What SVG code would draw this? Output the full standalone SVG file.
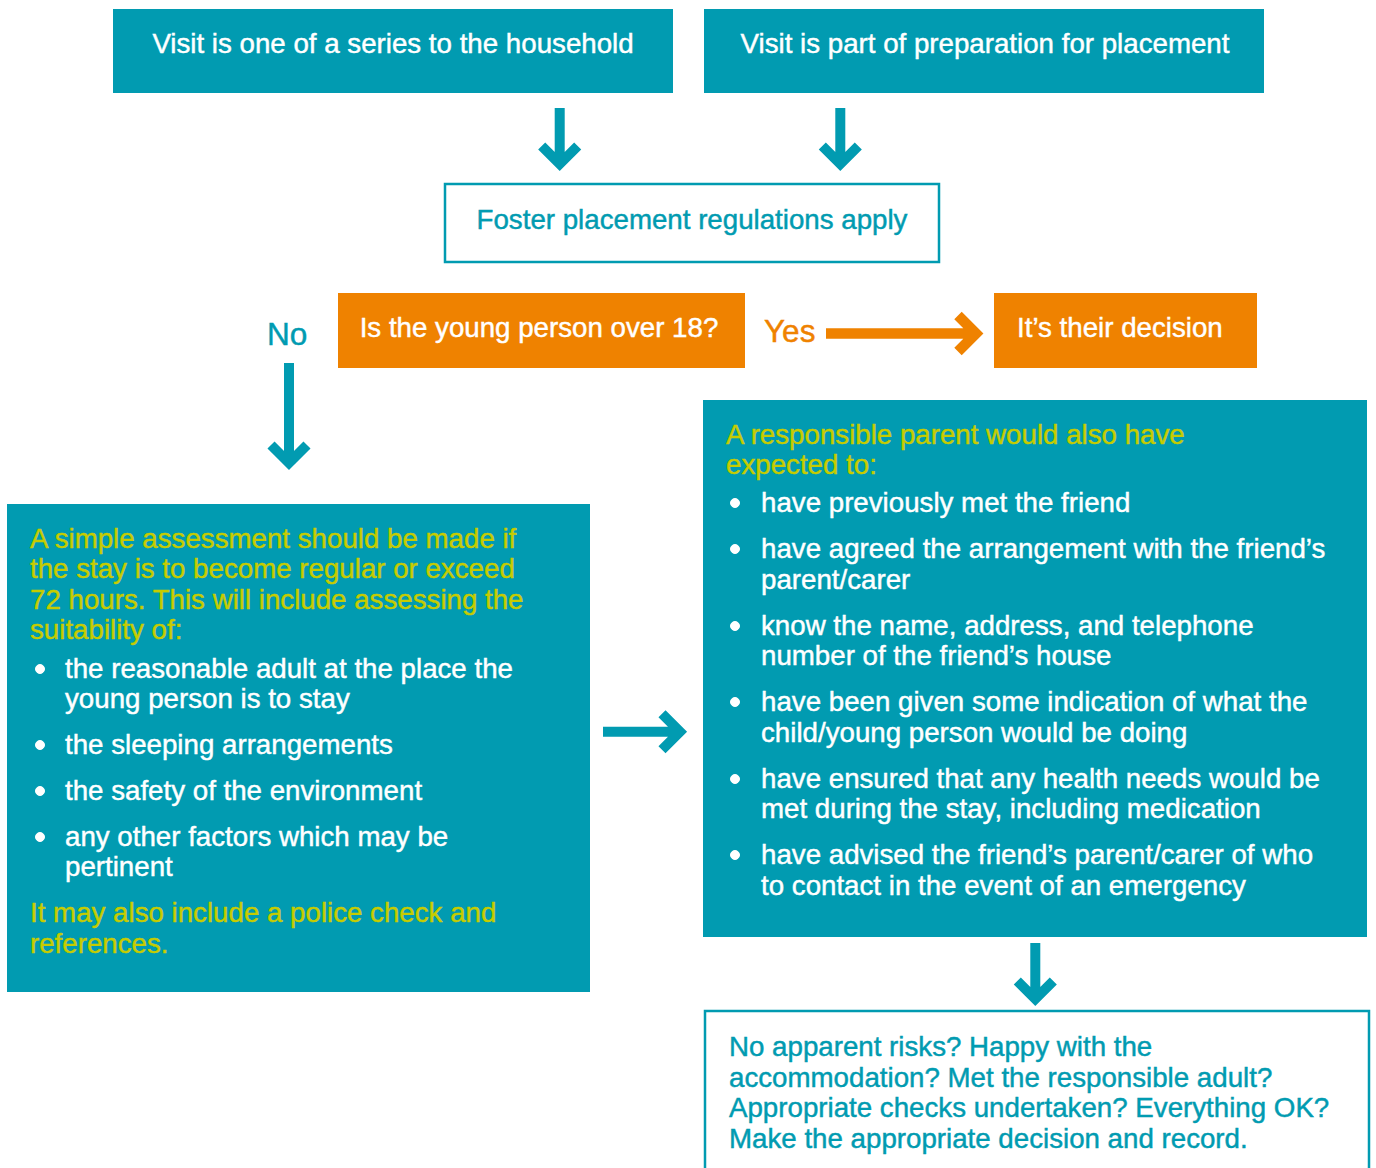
<svg xmlns="http://www.w3.org/2000/svg" width="1376" height="1168" viewBox="0 0 1376 1168">
  <style>
    text { font-family: "Liberation Sans", Arial, sans-serif; font-size: 27.7px; stroke-width: 0.45px; }
    .fill-teal { fill: #019bb1; }
    .fill-orange { fill: #ef8200; }
    .outline { fill: #ffffff; stroke: #019bb1; stroke-width: 2.5; }
    .white { fill: #ffffff; stroke: #ffffff; }
    .lime { fill: #c6cc00; stroke: #c6cc00; }
    .teal { fill: #019bb1; stroke: #019bb1; }
    .orange { fill: #ef8200; stroke: #ef8200; }
    .label { font-size: 31.5px; }
    .arrow { fill: none; stroke: #019bb1; stroke-width: 10; stroke-linejoin: miter; stroke-linecap: butt; }
    .arrow-o { fill: none; stroke: #ef8200; stroke-width: 10.5; stroke-linejoin: miter; stroke-linecap: butt; }
  </style>

  <!-- connectors: straight shaft plus a mitred chevron head -->
  <g id="connectors">
    <path class="arrow" d="M559.7,108 V160 M541.7,146 L559.7,164 L577.7,146"/>
    <path class="arrow" d="M840.3,108 V160 M822.3,146 L840.3,164 L858.3,146"/>
    <path class="arrow" d="M289,363 V459 M271,445 L289,463 L307,445"/>
    <path class="arrow-o" d="M826,333.5 H972 M958,315.5 L976,333.5 L958,351.5"/>
    <path class="arrow" d="M603,731.7 H676 M662,713.7 L680,731.7 L662,749.7"/>
    <path class="arrow" d="M1035.3,943 V995 M1017.3,981 L1035.3,999 L1053.3,981"/>
    <text class="teal label" x="267" y="345">No</text>
    <text class="orange label" x="764" y="342">Yes</text>
  </g>

  <g id="visit-series">
    <rect class="fill-teal" x="113" y="9" width="560" height="84"/>
    <text class="white" x="393" y="53" text-anchor="middle">Visit is one of a series to the household</text>
  </g>

  <g id="visit-preparation">
    <rect class="fill-teal" x="704" y="9" width="560" height="84"/>
    <text class="white" x="985" y="53" text-anchor="middle">Visit is part of preparation for placement</text>
  </g>

  <g id="foster-regulations">
    <rect class="outline" x="445" y="184" width="494" height="78"/>
    <text class="teal" x="692" y="229" text-anchor="middle">Foster placement regulations apply</text>
  </g>

  <g id="over-18">
    <rect class="fill-orange" x="338" y="293" width="407" height="75"/>
    <text class="white" x="539" y="337" text-anchor="middle">Is the young person over 18?</text>
  </g>

  <g id="their-decision">
    <rect class="fill-orange" x="994" y="293" width="263" height="75"/>
    <text class="white" x="1017" y="337">It’s their decision</text>
  </g>

  <g id="simple-assessment">
    <rect class="fill-teal" x="7" y="504" width="583" height="488"/>
    <text class="lime" x="30" y="548">A simple assessment should be made if</text>
    <text class="lime" x="30" y="578">the stay is to become regular or exceed</text>
    <text class="lime" x="30" y="609">72 hours. This will include assessing the</text>
    <text class="lime" x="30" y="639">suitability of:</text>
    <g class="white">
      <circle cx="40" cy="669" r="4.5"/>
      <circle cx="40" cy="745" r="4.5"/>
      <circle cx="40" cy="791" r="4.5"/>
      <circle cx="40" cy="837" r="4.5"/>
    </g>
    <text class="white" x="65" y="678">the reasonable adult at the place the</text>
    <text class="white" x="65" y="708">young person is to stay</text>
    <text class="white" x="65" y="754">the sleeping arrangements</text>
    <text class="white" x="65" y="800">the safety of the environment</text>
    <text class="white" x="65" y="846">any other factors which may be</text>
    <text class="white" x="65" y="876">pertinent</text>
    <text class="lime" x="30" y="922">It may also include a police check and</text>
    <text class="lime" x="30" y="953">references.</text>
  </g>

  <g id="responsible-parent">
    <rect class="fill-teal" x="703" y="400" width="664" height="537"/>
    <text class="lime" x="726" y="444">A responsible parent would also have</text>
    <text class="lime" x="726" y="474">expected to:</text>
    <g class="white">
      <circle cx="735" cy="503" r="4.5"/>
      <circle cx="735" cy="549" r="4.5"/>
      <circle cx="735" cy="626" r="4.5"/>
      <circle cx="735" cy="702" r="4.5"/>
      <circle cx="735" cy="779" r="4.5"/>
      <circle cx="735" cy="855" r="4.5"/>
    </g>
    <text class="white" x="761" y="512">have previously met the friend</text>
    <text class="white" x="761" y="558">have agreed the arrangement with the friend’s</text>
    <text class="white" x="761" y="589">parent/carer</text>
    <text class="white" x="761" y="635">know the name, address, and telephone</text>
    <text class="white" x="761" y="665">number of the friend’s house</text>
    <text class="white" x="761" y="711">have been given some indication of what the</text>
    <text class="white" x="761" y="742">child/young person would be doing</text>
    <text class="white" x="761" y="788">have ensured that any health needs would be</text>
    <text class="white" x="761" y="818">met during the stay, including medication</text>
    <text class="white" x="761" y="864">have advised the friend’s parent/carer of who</text>
    <text class="white" x="761" y="895">to contact in the event of an emergency</text>
  </g>

  <g id="make-decision">
    <rect class="outline" x="705" y="1011" width="664" height="170"/>
    <text class="teal" x="729" y="1056">No apparent risks? Happy with the</text>
    <text class="teal" x="729" y="1087">accommodation? Met the responsible adult?</text>
    <text class="teal" x="729" y="1117">Appropriate checks undertaken? Everything OK?</text>
    <text class="teal" x="729" y="1148">Make the appropriate decision and record.</text>
  </g>
</svg>
